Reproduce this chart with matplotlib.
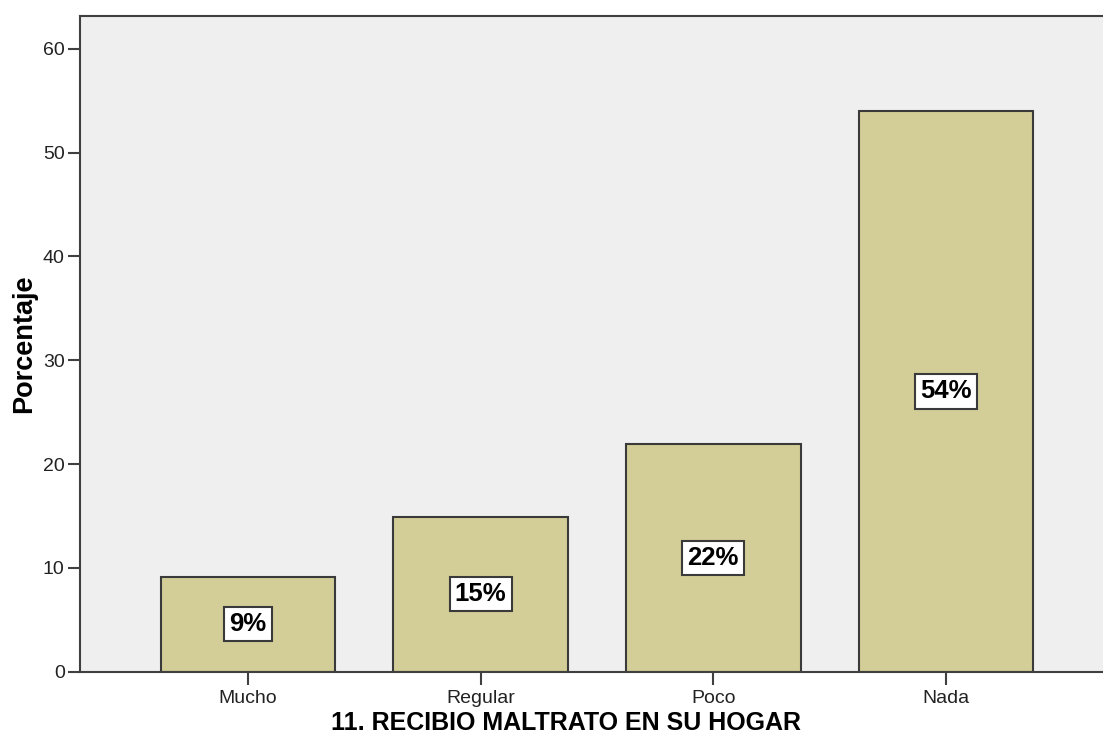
"""Bar chart: 11. RECIBIO MALTRATO EN SU HOGAR (percent per answer)."""

import matplotlib

matplotlib.use("Agg")

import matplotlib.pyplot as plt

categories = ["Mucho", "Regular", "Poco", "Nada"]
percentages = [9.15, 14.9, 21.9, 54.0]
bar_labels = ["9%", "15%", "22%", "54%"]
y_ticks = [0, 10, 20, 30, 40, 50, 60]

BAR_COLOR = "#d3ce97"
EDGE_COLOR = "#3a3a3a"
FRAME_COLOR = "#404040"
PANEL_COLOR = "#efefef"

plt.rcParams["font.family"] = ["Liberation Sans", "DejaVu Sans"]


def main() -> None:
    fig = plt.figure(figsize=(11.03, 7.45), dpi=100)
    ax = fig.add_axes([0.0725, 0.0985, 0.9275, 0.8805])
    ax.set_facecolor(PANEL_COLOR)

    positions = list(range(len(categories)))
    ax.bar(
        positions,
        percentages,
        width=0.75,
        color=BAR_COLOR,
        edgecolor=EDGE_COLOR,
        linewidth=1.5,
        zorder=2,
    )

    for x, value, label in zip(positions, percentages, bar_labels):
        ax.text(
            x,
            value / 2,
            label,
            ha="center",
            va="center",
            fontsize=18.5,
            fontweight="bold",
            zorder=3,
            bbox=dict(
                boxstyle="square,pad=0.2",
                facecolor="white",
                edgecolor=EDGE_COLOR,
                linewidth=1.5,
            ),
        )

    ax.set_xlim(-0.722, 3.675)
    ax.set_ylim(0, 63.2)
    ax.set_xticks(positions)
    ax.set_xticklabels(categories)
    ax.set_yticks(y_ticks)

    for side in ("left", "top", "bottom"):
        ax.spines[side].set_color(FRAME_COLOR)
        ax.spines[side].set_linewidth(1.5)
    ax.spines["right"].set_visible(False)

    ax.tick_params(
        axis="both",
        direction="out",
        length=9,
        width=1.5,
        color=FRAME_COLOR,
        labelsize=14,
        labelcolor="#222222",
    )
    ax.tick_params(axis="x", pad=4)
    ax.tick_params(axis="y", pad=2)

    ax.set_ylabel("Porcentaje", fontsize=19.5, fontweight="bold")
    ax.set_xlabel("11. RECIBIO MALTRATO EN SU HOGAR", fontsize=18, fontweight="bold")
    ax.xaxis.set_label_coords(0.475, -0.06)
    ax.yaxis.set_label_coords(-0.042, 0.5)

    fig.savefig("out.png", dpi=100)
    plt.close(fig)


if __name__ == "__main__":
    main()
